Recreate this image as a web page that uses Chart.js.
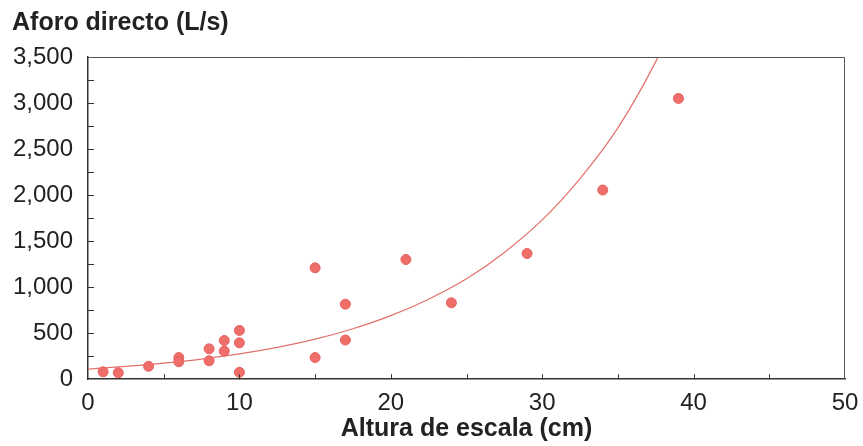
<!DOCTYPE html>
<html>
<head>
<meta charset="utf-8">
<script src="https://cdn.jsdelivr.net/npm/chart.js@4.4.1/dist/chart.umd.min.js"></script>
<style>
  body { margin: 0; background: #fff; }
  #wrap { width: 863px; height: 446px; }
</style>
</head>
<body>
<div id="wrap"><canvas id="aforo"></canvas></div>
<script>
// Aforos medidos (altura de escala en cm, caudal en L/s)
const alturas = [1, 2, 4, 6, 6, 8, 8, 9, 9, 10, 10, 10, 15, 15, 17, 17, 21, 24, 29, 34, 39];
const aforos = [80, 70, 140, 235, 190, 330, 200, 420, 305, 530, 395, 75, 1210, 235, 815, 425, 1300, 830, 1365, 2055, 3050];

// Curva de ajuste
const curvaX = [0, 2.5, 5, 7.5, 10, 12.5, 15, 17.5, 20, 22.5, 25, 27.5, 30, 32.5, 35, 37.5, 40];
const curvaY = [110, 139, 175, 219, 275, 346, 435, 548, 690, 869, 1090, 1377, 1730, 2180, 2730, 3450, 4330];

const xTicks = [0, 10, 20, 30, 40, 50];
const yTicks = [0, 500, 1000, 1500, 2000, 2500, 3000, 3500];

const FONT = "'Liberation Sans', Arial, sans-serif";

// marcas hacia adentro y borde superior/derecho
const marcos = {
    id: 'marcos',
    afterDraw(chart) {
        const ctx = chart.ctx;
        const a = chart.chartArea;
        const xs = chart.scales.x;
        const ys = chart.scales.y;
        ctx.save();
        ctx.strokeStyle = '#555';
        ctx.lineWidth = 1;
        ctx.beginPath();
        ctx.moveTo(a.left, a.top + 0.5);
        ctx.lineTo(a.right - 0.5, a.top + 0.5);
        ctx.lineTo(a.right - 0.5, a.bottom);
        ctx.stroke();

        ctx.strokeStyle = '#333';
        ctx.beginPath();
        for (let v = 5; v < 50; v += 5) {
            const px = Math.round(xs.getPixelForValue(v)) + 0.5;
            ctx.moveTo(px, a.bottom);
            ctx.lineTo(px, a.bottom - 5);
        }
        for (let v = 250; v < 3500; v += 250) {
            const py = Math.round(ys.getPixelForValue(v)) + 0.5;
            ctx.moveTo(a.left, py);
            ctx.lineTo(a.left + 6, py);
        }
        ctx.stroke();
        ctx.restore();
    }
};

const ctx = document.getElementById('aforo').getContext('2d');
new Chart(ctx, {
    type: 'scatter',
    data: {
        datasets: [{
            label: 'Aforos',
            data: alturas.map((x, i) => ({ x: x, y: aforos[i] })),
            backgroundColor: '#f06e6a',
            borderColor: '#e4625e',
            borderWidth: 1,
            pointRadius: 5,
            order: 1
        }, {
            label: 'Ajuste',
            type: 'line',
            data: curvaX.map((x, i) => ({ x: x, y: curvaY[i] })),
            borderColor: '#e2706d',
            borderWidth: 1.2,
            pointRadius: 0,
            fill: false,
            cubicInterpolationMode: 'monotone',
            order: 2
        }]
    },
    options: {
        responsive: true,
        maintainAspectRatio: false,
        animation: false,
        layout: { padding: { left: 12, right: 18, top: 0, bottom: 2 } },
        plugins: {
            legend: { display: false },
            tooltip: { enabled: false },
            title: {
                display: true,
                text: 'Aforo directo (L/s)',
                align: 'start',
                color: '#222',
                font: { family: FONT, size: 25, weight: 'bold' },
                padding: { top: 8, bottom: 19 }
            }
        },
        scales: {
            x: {
                type: 'linear',
                min: 0,
                max: 50,
                afterBuildTicks: (s) => { s.ticks = xTicks.map(v => ({ value: v })); },
                afterFit: (s) => { s.paddingRight = 0; },
                ticks: { color: '#222', font: { family: FONT, size: 24 }, padding: 10 },
                grid: { drawOnChartArea: false, drawTicks: false },
                border: { color: '#333', width: 1.5 },
                title: {
                    display: true,
                    text: 'Altura de escala (cm)',
                    color: '#222',
                    font: { family: FONT, size: 25, weight: 'bold' },
                    padding: { top: -14, bottom: 0 }
                }
            },
            y: {
                min: 0,
                max: 3500,
                afterBuildTicks: (s) => { s.ticks = yTicks.map(v => ({ value: v })); },
                afterFit: (s) => { s.width = 76; },
                ticks: {
                    color: '#222',
                    font: { family: FONT, size: 24 },
                    padding: 15,
                    callback: (v) => v.toLocaleString('en-US')
                },
                grid: { drawOnChartArea: false, drawTicks: false },
                border: { color: '#333', width: 1.5 }
            }
        }
    },
    plugins: [marcos]
});
</script>
</body>
</html>
